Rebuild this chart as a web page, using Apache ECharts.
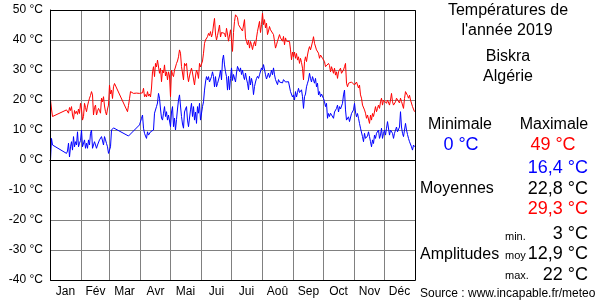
<!DOCTYPE html>
<html>
<head>
<meta charset="utf-8">
<script src="https://cdn.jsdelivr.net/npm/echarts@6/dist/echarts.min.js"></script>
<style>html,body{margin:0;padding:0;background:#fff}#c{width:600px;height:300px}</style>
</head>
<body>
<div id="c"></div>
<script>
// ---- data ----
var monthNames = ['Jan','Fév','Mar','Avr','Mai','Jui','Jui','Aoû','Sep','Oct','Nov','Déc'];
var monthDays = [31,28,31,30,31,30,31,31,30,31,30,31];
var yTicks = [-40,-30,-20,-10,0,10,20,30,40,50];

// daily maximum temperatures (°C), null = missing day
var maxTemps = [
// Jan
20,17,14.5,null,null,null,null,null,null,null,null,null,null,null,null,null,16.7,16.2,15.6,17.5,16.5,17.8,15,13.6,16.5,15.5,16.2,15.2,17,15.5,18.9,
// Feb
17,13.3,14.5,18.9,17.5,16.1,18,19.4,20.6,21.5,22.8,21.7,15,17.5,18.3,15,16.2,17.2,16.5,15.6,20.6,19.4,21.1,18,16.1,15,17,18.3,
// Mar
25,22,23.3,20.5,24.4,25.5,25,null,null,null,null,null,null,null,null,null,null,null,16.1,18.2,20.4,22.8,22.2,22.2,22.2,22.3,22.2,22.3,22.2,22.4,22.2,
// Apr
22.3,22.2,22.4,23.9,21.1,21.8,21,22.8,21.3,22,21,24,29.4,31.1,27.8,32.2,31,33.3,33.9,28.9,30.6,26.1,30,29,31.7,28,29.4,26.7,29.4,28,
// May
21.1,30,28.5,27.8,30,31,32.2,33,34.4,36.7,35.6,31.1,29,26.7,32.2,31.5,32.2,28.3,26.1,28,29.5,30.6,29,28.5,25,28,30,29,27.2,32.2,31,
// Jun
30.5,33,35.6,38.9,40,40.5,41.1,42.2,41.5,42.8,41,42.2,45,47.2,42,40,41.5,41,45,41,42.5,42.2,42,42.2,41,43.9,42,39.6,39.6,43.4,
// Jul
40,36.2,42.5,46.2,48.4,47.9,47.5,45.1,44.5,44,43.4,43,42.5,46.8,40.7,39.5,38.4,40,37.3,39.5,38.4,36.8,38.5,39.5,38,40.7,42.9,42.5,46.2,42.5,45.1,
// Aug
49,45.1,46.8,44,45.6,41.8,43,44.5,43.4,43,42.9,41.8,39.6,37.3,38.4,39.6,40,41.8,40.7,40.5,39.6,41.2,38.4,40.7,39.6,40.1,40,39.5,36.7,33.4,36,
// Sep
34.4,36,33.9,35.5,33.3,34.4,32.2,33.9,32.5,30.6,26.7,32.8,34.4,32.8,35,36.7,37.8,36.7,38,39.4,41.1,38.9,38.3,36.7,37.2,35.6,33.9,35,34.4,33.9,
// Oct
33.5,32.8,31.1,31.7,30.6,32.2,31.5,29.4,31.1,30,28.9,30.6,28.3,29.4,27.2,29.4,28.9,30.6,28.9,29.4,30,31.1,32.2,25.6,24.4,25.6,25,25.6,26,25.5,26.1,
// Nov
25,25.5,26,25,24,25,21.7,20.6,18.3,17.8,16.7,15.6,13.9,15,14.5,12.2,15,13.3,15.5,14.5,15,17.8,16.1,17.2,18.3,17.2,19.4,20.6,18.3,20,
// Dec
20.6,19.4,18.9,20,20,18.3,20,22.2,19.4,18.3,17.8,19.4,20.6,20,20,19,20.6,19.5,18.9,17.2,20.5,22.8,22.2,21.5,20.6,21.6,20,19.5,17.8,17.2,16.1
];

// daily minimum temperatures (°C), null = missing day
var minTemps = [
// Jan
0,7.2,5,null,null,null,null,null,null,null,null,null,null,null,null,null,2.2,3,5.6,1,4.4,6.1,3.3,7.8,4.4,6.1,5,9.4,4.4,5.6,6.5,
// Feb
10,4.4,5,6.7,3.9,5.6,3.9,6.7,5,8.9,10,3.9,5,6.1,5,3.9,5,5.6,6.7,6.5,7.8,7.2,5,7.8,6.7,5.5,4.4,2.2,
// Mar
2.8,4.4,10,10.5,10.7,10.5,10.7,null,null,null,null,null,null,null,null,null,null,null,null,8,null,null,null,null,null,null,null,null,null,null,11.7,
// Apr
12,13.9,15,10.6,8.9,8,7.2,9.4,8.3,8.9,9.4,8.9,9,10,15.6,16,17.8,19,22.2,20.6,17,14,13.3,15.6,17.8,14.5,16.1,13.3,15,15.6,
// May
11.1,16,17.8,11.1,14,10,13.5,17,20,21.7,18,14.5,12,10.6,16,17,17.8,13.3,11.1,14,16.7,18.9,14.5,17.8,13.3,16,12.2,17.8,15.6,18.9,13.3,
// Jun
13.3,17.8,19.4,23.3,26,27.8,26.7,27.8,26,26.1,27.8,29.4,27.8,24.4,27.8,24.4,25.5,25.6,28,30,26.7,33.3,35,31.7,29.4,27.8,23.3,27.9,23.4,27.2,
// Jul
30.7,26.5,28.5,28,26,29,31.2,31.8,29.5,30.7,28.5,30,27.9,26.8,29,27,25.6,23.4,27.9,25,27.2,25.6,21.8,24.5,26,27.2,27.9,27.2,28.4,29,30.7,
// Aug
30,31.8,31.2,28.4,27,26.8,29,27.5,28.4,30,28.4,30.7,28.4,26.8,27,25.1,26.8,26,26.2,26.5,25.7,26.8,26.2,26,25.6,25.5,26.1,25.5,22.8,23.4,21,
// Sep
21.7,20,22.8,21,22.5,23.9,22.5,22.8,23.4,21.1,17.2,21.1,22,24.4,25.6,26.7,28.9,27.2,26,27.8,26.7,25.6,27.2,24.4,25.6,21.7,22.8,21.1,22,21.7,
// Oct
20.5,19.4,17.8,18.9,13.9,15.5,14.5,15.6,16,15,13.9,16,15.6,17.2,18.3,16,17.8,17,17.2,18.9,21.7,23.3,16.7,13.3,13.9,14.4,12.8,13,15.5,15,16.7,
// Nov
18.9,16,14.4,15.5,13.9,12.2,10.6,10,7.8,6.1,8.9,7.2,6.7,8,9.4,7.8,6.1,4.4,6.7,5.5,8.3,7.2,8.9,9.4,10,7.2,8.3,10.6,7.2,8.9,
// Dec
10,8.3,10.6,12.8,12.8,8.3,10,9.4,8.9,7.2,8.9,8.3,11,9.4,9.4,11,16.1,11,8.9,7.8,10,12.2,10,8.5,7.2,6.1,6.7,4.4,3.3,5,4.4
];

var titleLines = ['Températures de', "l'année 2019", 'Biskra', 'Algérie'];
var extremes = {min: '0 °C', max: '49 °C'};
var means = {min: '16,4 °C', avg: '22,8 °C', max: '29,3 °C'};
var amplitudes = {min: '3 °C', avg: '12,9 °C', max: '22 °C'};
var sourceText = 'Source : www.incapable.fr/meteo';

// ---- build categories ----
var days = [], monthStartIdx = {}, monthLabelIdx = {};
(function(){
  var d = 0;
  for (var m = 0; m < 12; m++) {
    monthStartIdx[d] = true;
    monthLabelIdx[d + Math.floor(monthDays[m] / 2)] = monthNames[m];
    for (var k = 1; k <= monthDays[m]; k++) { days.push(String(d)); d++; }
  }
})();

var FONT = "'Liberation Sans', Arial, sans-serif";
function txt(t, x, y, size, color, align) {
  return {type:'text', z:100, style:{text:t, x:x, y:y, font: size + 'px ' + FONT, fill:color, align:align||'center', verticalAlign:'middle'}};
}

var chart = echarts.init(document.getElementById('c'), null, {renderer:'canvas'});
chart.setOption({
  animation: false,
  backgroundColor: '#fff',
  grid: {left: 50, top: 10, width: 365, height: 270, containLabel: false},
  xAxis: {
    type: 'category',
    data: days,
    boundaryGap: true,
    axisLine: {show: true, lineStyle: {color: '#000', width: 1}},
    axisTick: {show: false},
    axisLabel: {
      interval: function(i){ return monthLabelIdx[i] !== undefined; },
      formatter: function(v, i){ return monthLabelIdx[i] || ''; },
      color: '#000', fontFamily: FONT, fontSize: 12, margin: 6
    },
    splitLine: {show: true, interval: function(i){ return monthStartIdx[i] === true; }, lineStyle: {color: '#808080', width: 1}}
  },
  yAxis: {
    type: 'value', min: -40, max: 50, interval: 10,
    axisLine: {show: true, lineStyle: {color: '#000'}},
    axisTick: {show: false},
    axisLabel: {formatter: '{value} °C', color: '#000', fontFamily: FONT, fontSize: 12, margin: 7},
    splitLine: {show: true, lineStyle: {color: '#808080', width: 1}}
  },
  series: [
    {type: 'line', data: maxTemps, showSymbol: false, connectNulls: true, lineStyle: {color: '#ff0000', width: 1}, itemStyle:{color:'#ff0000'}, z: 3},
    {type: 'line', data: minTemps, showSymbol: false, connectNulls: true, lineStyle: {color: '#0000ff', width: 1}, itemStyle:{color:'#0000ff'}, z: 3}
  ],
  graphic: [
    {type:'rect', z:99, shape:{x:50.5, y:10.5, width:365, height:270}, style:{fill:null, stroke:'#000', lineWidth:1}},
    txt(titleLines[0], 508, 11, 16, '#000'),
    txt(titleLines[1], 507, 31, 16, '#000'),
    txt(titleLines[2], 508, 57, 16, '#000'),
    txt(titleLines[3], 508, 77, 16, '#000'),
    txt('Minimale', 460, 125, 16, '#000'),
    txt('Maximale', 554, 125, 16, '#000'),
    txt(extremes.min, 461, 145, 18, '#0000ff'),
    txt(extremes.max, 553, 145, 18, '#ff0000'),
    txt(means.min, 588, 168, 18, '#0000ff', 'right'),
    txt('Moyennes', 420, 189, 16, '#000', 'left'),
    txt(means.avg, 588, 189, 18, '#000', 'right'),
    txt(means.max, 588, 209, 18, '#ff0000', 'right'),
    txt('min.', 505, 237, 11, '#000', 'left'),
    txt(amplitudes.min, 588, 234, 18, '#000', 'right'),
    txt('Amplitudes', 420, 255, 16, '#000', 'left'),
    txt('moy', 505, 256, 11, '#000', 'left'),
    txt(amplitudes.avg, 588, 254, 18, '#000', 'right'),
    txt('max.', 505, 276, 11, '#000', 'left'),
    txt(amplitudes.max, 588, 275, 18, '#000', 'right'),
    txt(sourceText, 420, 294, 12, '#000', 'left')
  ]
});
</script>
</body>
</html>
